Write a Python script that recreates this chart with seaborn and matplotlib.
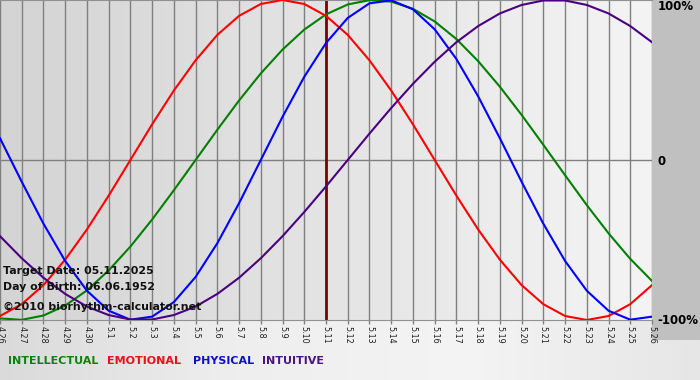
import numpy as np
import pandas as pd
import matplotlib
matplotlib.use("Agg")
import matplotlib.pyplot as plt
import seaborn as sns
from matplotlib.colors import LinearSegmentedColormap
from matplotlib.patches import Rectangle

dates = ["4.26", "4.27", "4.28", "4.29", "4.30"] + [f"5.{d}" for d in range(1, 27)]

intellectual = [-99.0, -99.9, -97.2, -91.0, -81.5, -69.0, -54.1, -37.2, -18.9, 0, 18.9,
                37.2, 54.1, 69.0, 81.5, 91.0, 97.2, 99.9, 99.0, 94.5, 86.6, 75.6, 61.8,
                45.8, 28.2, 9.5, -9.5, -28.2, -45.8, -61.8, -75.6]
emotional = [-97.5, -90.1, -78.2, -62.3, -43.4, -22.3, 0, 22.3, 43.4, 62.3, 78.2, 90.1,
             97.5, 100, 97.5, 90.1, 78.2, 62.3, 43.4, 22.3, 0, -22.3, -43.4, -62.3,
             -78.2, -90.1, -97.5, -100, -97.5, -90.1, -78.2]
physical = [13.6, -13.6, -39.8, -63.1, -81.7, -94.2, -99.8, -97.9, -88.8, -73.1, -52.0,
            -27.0, 0, 27.0, 52.0, 73.1, 88.8, 97.9, 99.8, 94.2, 81.7, 63.1, 39.8, 13.6,
            -13.6, -39.8, -63.1, -81.7, -94.2, -99.8, -97.9]
intuitive = [-47.6, -61.4, -73.6, -83.7, -91.6, -96.9, -99.7, -99.7, -96.9, -91.6, -83.7,
             -73.6, -61.4, -47.6, -32.5, -16.5, 0, 16.5, 32.5, 47.6, 61.4, 73.6, 83.7,
             91.6, 96.9, 99.7, 99.7, 96.9, 91.6, 83.7, 73.6]

series_names = ["INTELLECTUAL", "EMOTIONAL", "PHYSICAL", "INTUITIVE"]
line_colors = ["#008000", "#ff0000", "#0000ff", "#4b0082"]
text_colors = ["#108010", "#e8101a", "#1010c8", "#4b1582"]
target_date = "5.11"

rows = []
for name, vals in zip(series_names, [intellectual, emotional, physical, intuitive]):
    for i, v in enumerate(vals):
        rows.append({"day": i, "value": v, "series": name})
df = pd.DataFrame(rows)

fig = plt.figure(figsize=(7, 3.8), dpi=100)

# figure background gradient
bg = fig.add_axes([0, 0, 1, 1], zorder=-10)
bg.axis("off")
grad = np.linspace(0, 1, 256).reshape(1, -1)
cm_fig = LinearSegmentedColormap.from_list("f", ["#dadada", "#eeeeee", "#f4f4f4", "#e6e6e6"])
bg.imshow(grad, aspect="auto", cmap=cm_fig, extent=[0, 1, 0, 1])
bg.set_xlim(0, 1); bg.set_ylim(0, 1)
bg.add_patch(Rectangle((652 / 700, 40 / 380), 48 / 700, 340 / 380, color="#c0c0c0", lw=0))

W, H = 700, 380
ax = fig.add_axes([0, (H - 320) / H, 652 / W, 320 / H])
cm_ax = LinearSegmentedColormap.from_list("a", ["#d4d4d4", "#e4e4e4", "#f4f4f4"])
ax.imshow(grad, aspect="auto", cmap=cm_ax, extent=[0, 30, -100, 100], zorder=0)

for x in range(len(dates)):
    ax.axvline(x, color="#808080", lw=1, zorder=1)
ax.axhline(0, color="#808080", lw=1, zorder=1)
ax.axvline(dates.index(target_date), color="#800000", lw=2, zorder=2)

sns.lineplot(data=df, x="day", y="value", hue="series", hue_order=series_names,
             palette=line_colors, linewidth=1.5, legend=False, ax=ax, zorder=3)

ax.set_xlim(0, 30)
ax.set_ylim(-100, 100)
ax.set_xlabel("")
ax.set_ylabel("")
ax.set_xticks(range(len(dates)))
ax.set_xticklabels(dates, rotation=270, fontsize=5.8, color="#202020")
ax.tick_params(axis="x", length=3, width=1, color="#808080", pad=1)

ax.yaxis.tick_right()
ax.set_yticks([-100, 0, 100])
ylabels = ax.set_yticklabels(["-100%", "0", "100%"], fontsize=8.5, fontweight="bold")
ylabels[2].set_va("top")
ylabels[0].set_va("center")
ax.tick_params(axis="y", length=0, pad=4)

for s in ["left", "right"]:
    ax.spines[s].set_visible(False)
ax.spines["top"].set_color("#909090")
ax.spines["bottom"].set_color("#909090")

info = [("Target Date: 05.11.2025", 271), ("Day of Birth: 06.06.1952", 287),
        ("©2010 biorhythm-calculator.net", 307)]
for txt, yp in info:
    ax.text(3 / 652, (320 - yp) / 320, txt, transform=ax.transAxes, fontsize=7.9,
            fontweight="bold", color="#111111", va="center", ha="left", zorder=5)

legend_x = [8, 107, 193, 262]
for name, col, xp in zip(series_names, text_colors, legend_x):
    fig.text(xp / W, (H - 361) / H, name, color=col, fontsize=8, fontweight="bold",
             va="center", ha="left")

fig.savefig("out.png", dpi=100)
